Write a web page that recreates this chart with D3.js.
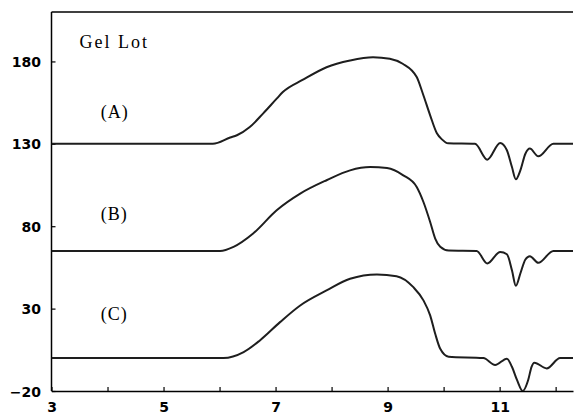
<!DOCTYPE html>
<html>
<head>
<meta charset="utf-8">
<script src="https://cdn.jsdelivr.net/npm/d3@7/dist/d3.min.js"></script>
<style>
  html, body { margin: 0; padding: 0; background: #fff; }
  svg { display: block; }
  .tick text { font-family: "DejaVu Sans", sans-serif; font-weight: bold; font-size: 14px; fill: #000; }
  .note { font-family: "Liberation Serif", "Times New Roman", serif; font-size: 18px; letter-spacing: 1px; fill: #000; }
</style>
</head>
<body>
<svg id="chart" width="574" height="416"></svg>
<script>
// Elution traces for three gel lots (time vs. detector response, offset per lot)
const timeA = [3, 5.88, 6.19, 6.31, 6.54, 6.78, 7.02, 7.13, 7.49, 7.91, 8.33, 8.74, 9.04, 9.27, 9.52, 9.63, 9.76, 9.88, 9.97, 10.08,
               10.56, 10.78, 11.01, 11.13, 11.22, 11.29, 11.37, 11.46, 11.54, 11.69, 11.96, 12.31];
const respA = [130, 130, 133.8, 135.2, 140.2, 148.5, 157.4, 161.4, 168.9, 176.5, 180.6, 182.6, 181.6, 178.6, 170.5, 160.4, 147.3, 136.4, 132.7, 130.3,
               130, 120.4, 130.5, 126.1, 115.9, 108.5, 113.9, 124, 127.1, 122.4, 130, 130];

const timeB = [3, 6.01, 6.25, 6.60, 7.02, 7.44, 7.91, 8.33, 8.69, 8.99, 9.28, 9.52, 9.64, 9.76, 9.85, 9.94, 10.09,
               10.59, 10.78, 11.01, 11.13, 11.22, 11.29, 11.37, 11.46, 11.54, 11.69, 11.96, 12.31];
const respB = [65, 65, 67.5, 75.6, 89.7, 99.8, 107.9, 113.9, 115.9, 115.3, 110.9, 103.8, 94.7, 82.6, 72.5, 67.5, 65.2,
               65, 57.4, 64.4, 63.0, 53.3, 43.8, 51.3, 59.8, 61.8, 57.8, 65, 65];

const timeC = [3, 6.07, 6.43, 6.72, 7.08, 7.44, 7.91, 8.33, 8.81, 9.16, 9.46, 9.64, 9.76, 9.85, 9.94, 10.09,
               10.71, 10.92, 11.13, 11.22, 11.31, 11.41, 11.51, 11.57, 11.62, 11.84, 12.08, 12.31];
const respC = [0, 0, 3.6, 10.7, 21.8, 31.9, 41.0, 48.1, 50.7, 49.7, 43.0, 35.0, 25.9, 14.7, 5.6, 0.8,
               0, -4.2, -0.4, -5.3, -13.3, -20, -13.3, -5.3, -2.8, -6.3, 0, 0];

const xTicks = [3, 4, 5, 6, 7, 8, 9, 10, 11, 12];
const xTickLabels = ["3", "", "5", "", "7", "", "9", "", "11", ""];
const yTicks = [-20, 30, 80, 130, 180];
const yTickLabels = ["\u221220", "30", "80", "130", "180"];

const title = "Gel Lot";
const lotLabels = ["(A)", "(B)", "(C)"];
const lotLabelTime = [3.88, 3.88, 3.88];
const lotLabelResp = [145.5, 83.5, 23];

const svg = d3.select("#chart");
const plotLeft = 51.5, plotRight = 573, plotTop = 12, plotBottom = 391;

const x = d3.scaleLinear().domain([3, 12.31]).range([plotLeft, plotRight]);
const y = d3.scaleLinear().domain([-20, 210]).range([plotBottom, plotTop]);

// frame: top rule (no right edge)
svg.append("line")
  .attr("x1", plotLeft).attr("x2", plotRight)
  .attr("y1", plotTop).attr("y2", plotTop)
  .attr("stroke", "#000").attr("stroke-width", 1.5);

const xAxis = d3.axisBottom(x)
  .tickValues(xTicks)
  .tickFormat((d, i) => xTickLabels[i])
  .tickSizeInner(-4).tickSizeOuter(0).tickPadding(11.5);

const yAxis = d3.axisLeft(y)
  .tickValues(yTicks)
  .tickFormat((d, i) => yTickLabels[i])
  .tickSizeInner(-4).tickSizeOuter(0).tickPadding(10.5);

const gx = svg.append("g").attr("transform", `translate(0,${plotBottom})`).call(xAxis);
const gy = svg.append("g").attr("transform", `translate(${plotLeft},0)`).call(yAxis);

[gx, gy].forEach(g => {
  g.select(".domain").attr("stroke", "#000").attr("stroke-width", 1.5);
  g.selectAll(".tick line").attr("stroke", "#000").attr("stroke-width", 1.2);
});
gy.selectAll(".tick text").attr("dy", "0.36em");
gy.select(".domain").attr("d", `M0,${plotTop}V${plotBottom}`);

// clip traces to the plot area
svg.append("clipPath").attr("id", "plot")
  .append("rect").attr("x", plotLeft).attr("y", plotTop)
  .attr("width", plotRight - plotLeft + 1).attr("height", plotBottom - plotTop);

const line = d3.line()
  .x(d => x(d[0]))
  .y(d => y(d[1]))
  .curve(d3.curveMonotoneX);

const series = [[timeA, respA], [timeB, respB], [timeC, respC]];
series.forEach(([t, r]) => {
  svg.append("path")
    .datum(t.map((v, i) => [v, r[i]]))
    .attr("clip-path", "url(#plot)")
    .attr("fill", "none")
    .attr("stroke", "#1e1e1e")
    .attr("stroke-width", 2)
    .attr("stroke-linejoin", "round")
    .attr("d", line);
});

svg.append("text").attr("class", "note")
  .attr("x", x(3.5)).attr("y", y(188))
  .style("letter-spacing", "2px")
  .text(title);

svg.selectAll("text.lot")
  .data(lotLabels)
  .join("text")
  .attr("class", "note lot")
  .attr("x", (d, i) => x(lotLabelTime[i]))
  .attr("y", (d, i) => y(lotLabelResp[i]))
  .text(d => d);
</script>
</body>
</html>
